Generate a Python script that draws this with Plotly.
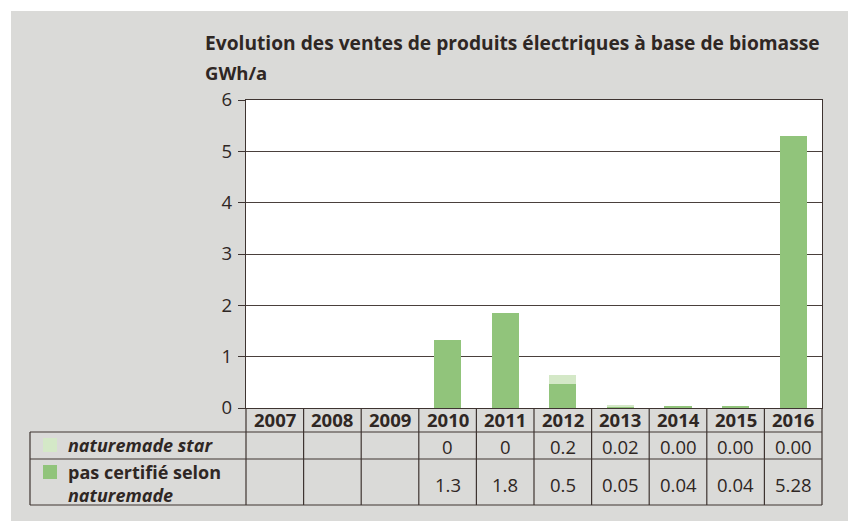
import plotly.graph_objects as go

years = ["2007", "2008", "2009", "2010", "2011", "2012", "2013", "2014", "2015", "2016"]
# bar heights (GWh/a)
pas_certifie = [0, 0, 0, 1.33, 1.86, 0.47, 0.03, 0.045, 0.045, 5.30]
naturemade_star = [0, 0, 0, 0, 0, 0.18, 0.035, 0, 0, 0]
# labels printed in the data table
star_labels = ["", "", "", "0", "0", "0.2", "0.02", "0.00", "0.00", "0.00"]
pas_labels = ["", "", "", "1.3", "1.8", "0.5", "0.05", "0.04", "0.04", "5.28"]
yticks = [0, 1, 2, 3, 4, 5, 6]

title = "Evolution des ventes de produits électriques à base de biomasse"
unit = "GWh/a"
legend_star = "<i>naturemade star</i>"
legend_pas = "pas certifié selon<br><i>naturemade</i>"

GREEN = "#91c47b"
LIGHT = "#d4e8c7"
BG = "#dadad8"
DARK = "#3e3431"
TXT = "#2f2724"
FONT = "Open Sans"
FS = 18.5

OFF = 8  # page body margin
W_FIG, H_FIG = 856 - OFF, 521 - OFF
# plot area in screen pixels
L, R, T, B = 246, 822, 100, 408
PW, PH = R - L, B - T


def px(x):
    return (x - L) / PW


def py(y):
    return (B - y) / PH


fig = go.Figure()
fig.add_trace(go.Bar(x=years, y=pas_certifie, marker=dict(color=GREEN, line=dict(width=0)),
                     name="pas certifié selon naturemade", showlegend=False))
fig.add_trace(go.Bar(x=years, y=naturemade_star, marker=dict(color=LIGHT, line=dict(width=0)),
                     name="naturemade star", showlegend=False))

shapes = []
# white outer strips
shapes.append(dict(type="rect", xref="paper", yref="paper", x0=px(0), x1=px(900), y0=py(0), y1=py(11),
                   fillcolor="white", line=dict(width=0), layer="above"))
shapes.append(dict(type="rect", xref="paper", yref="paper", x0=px(0), x1=px(11), y0=py(0), y1=py(600),
                   fillcolor="white", line=dict(width=0), layer="above"))

n = len(years)
line = dict(color=DARK, width=1.2)
for yy in (432, 459, 505):
    shapes.append(dict(type="line", xref="paper", yref="paper", x0=px(30), x1=1, y0=py(yy), y1=py(yy), line=line))
shapes.append(dict(type="line", xref="paper", yref="paper", x0=px(30), x1=px(30), y0=py(432), y1=py(505), line=line))
for k in range(n + 1):
    shapes.append(dict(type="line", xref="paper", yref="paper", x0=k / n, x1=k / n, y0=0, y1=py(505), line=line))

# legend swatches
shapes.append(dict(type="rect", xref="paper", yref="paper", x0=px(43), x1=px(57), y0=py(452), y1=py(438),
                   fillcolor=LIGHT, line=dict(width=0)))
shapes.append(dict(type="rect", xref="paper", yref="paper", x0=px(43), x1=px(57), y0=py(479), y1=py(465),
                   fillcolor=GREEN, line=dict(width=0)))


def txt(text, x, y, anchor="center", size=FS, align="center"):
    return dict(text=text, xref="paper", yref="paper", x=x, y=y, xanchor=anchor, yanchor="middle",
                showarrow=False, align=align, font=dict(size=size, color=TXT, family=FONT))


ann = []
ann.append(txt("<b>" + title + "</b>", px(203), py(42), "left", 19.2))
ann.append(txt("<b>" + unit + "</b>", px(203), py(72), "left", 18.5))
for k, yr in enumerate(years):
    cx = (k + 0.5) / n
    ann.append(txt("<b>" + yr + "</b>", cx, py(420)))
    if star_labels[k]:
        ann.append(txt(star_labels[k], cx, py(446)))
    if pas_labels[k]:
        ann.append(txt(pas_labels[k], cx, py(484)))
ann.append(txt("<b>" + legend_star + "</b>", px(66), py(445), "left", 18))
ann.append(txt("<b>" + legend_pas + "</b>", px(66), py(483), "left", 18, "left"))

fig.update_layout(
    width=W_FIG, height=H_FIG,
    margin=dict(l=L - OFF, r=W_FIG + OFF - R, t=T - OFF, b=H_FIG + OFF - B, pad=0),
    paper_bgcolor=BG, plot_bgcolor="white",
    barmode="stack", bargap=0.53,
    font=dict(family=FONT, color=TXT, size=FS),
    shapes=shapes, annotations=ann,
    xaxis=dict(type="category", showticklabels=False, ticks="", showgrid=False,
               showline=True, linecolor=DARK, linewidth=1.2, mirror=True, fixedrange=True),
    yaxis=dict(range=[0, 6], tickvals=yticks, ticks="outside", ticklen=7, tickcolor=DARK, tickwidth=1,
               showgrid=True, gridcolor="#4a403c", gridwidth=1, zeroline=False,
               showline=True, linecolor=DARK, linewidth=1.2, mirror=True,
               tickfont=dict(size=18.5, color=TXT), ticklabelstandoff=2),
)

fig.write_html("out.html")
